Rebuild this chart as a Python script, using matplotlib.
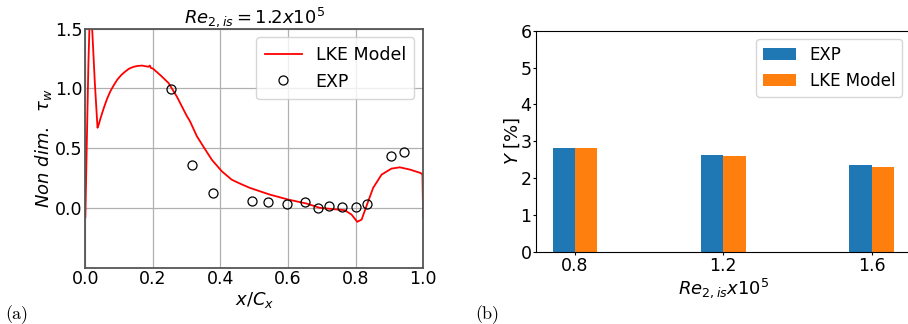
import matplotlib
matplotlib.use("Agg")
import matplotlib.pyplot as plt
import numpy as np

# (a) wall shear stress, LKE model curve
x_lke = [0.0, 0.004, 0.009, 0.013, 0.018, 0.021, 0.028, 0.036, 0.04, 0.045, 0.054, 0.064,
         0.074, 0.084, 0.094, 0.106, 0.118, 0.13, 0.143, 0.155, 0.168, 0.187, 0.191, 0.194,
         0.2, 0.222, 0.246, 0.271, 0.30, 0.31, 0.33, 0.349, 0.375, 0.404, 0.433, 0.46,
         0.487, 0.546, 0.601, 0.655, 0.694, 0.724, 0.768, 0.788, 0.805, 0.818, 0.832, 0.852,
         0.877, 0.906, 0.931, 0.961, 0.992, 0.998, 1.0]
y_lke = [-0.08, 0.5, 1.2, 1.6, 1.6, 1.45, 1.05, 0.67, 0.7, 0.75, 0.83, 0.91,
         0.975, 1.025, 1.07, 1.11, 1.14, 1.165, 1.18, 1.187, 1.19, 1.18, 1.19, 1.17,
         1.165, 1.11, 1.045, 0.93, 0.77, 0.723, 0.6, 0.514, 0.4, 0.306, 0.236, 0.2,
         0.167, 0.111, 0.069, 0.036, 0.0, -0.008, -0.02, -0.056, -0.117, -0.098, 0.013, 0.167,
         0.278, 0.328, 0.339, 0.32, 0.292, 0.28, -0.08]

# (a) experimental points
x_exp = [0.253, 0.317, 0.379, 0.494, 0.542, 0.596, 0.649, 0.689, 0.722, 0.761, 0.801, 0.833,
         0.905, 0.944]
y_exp = [0.99, 0.36, 0.125, 0.06, 0.045, 0.036, 0.05, 0.0, 0.014, 0.011, 0.011, 0.033,
         0.43, 0.47]

# (b) loss coefficient
re_labels = ["0.8", "1.2", "1.6"]
y_exp_bar = [2.82, 2.63, 2.36]
y_lke_bar = [2.82, 2.60, 2.30]

fig = plt.figure(figsize=(9.08, 3.24), dpi=100)

ax1 = fig.add_axes([0.094, 0.174, 0.372, 0.738])
ax1.plot(x_lke, y_lke, color="red", lw=1.3, label="LKE Model")
ax1.plot(x_exp, y_exp, "o", mfc="none", mec="black", ms=6.5, mew=0.9, label="EXP")
ax1.set_xlim(0, 1)
ax1.set_ylim(-0.5, 1.5)
ax1.set_yticks([0.0, 0.5, 1.0, 1.5])
ax1.set_xticks([0.0, 0.2, 0.4, 0.6, 0.8, 1.0])
ax1.grid(True, color="#b0b0b0", lw=0.9)
ax1.tick_params(labelsize=12.5, length=0, pad=2)
for s in ax1.spines.values():
    s.set_color("#555555")
    s.set_linewidth(1.3)
ax1.set_xlabel(r"$x/C_x$", fontsize=13, labelpad=1)
ax1.set_ylabel(r"$Non\ dim.\ \ \tau_w$", fontsize=13, labelpad=1)
ax1.set_title(r"$Re_{2,is} = 1.2x10^5$", fontsize=13, pad=3)
ax1.legend(loc="upper right", fontsize=12.5, handlelength=2.1, handletextpad=0.8,
           borderpad=0.5)

ax2 = fig.add_axes([0.5906, 0.2231, 0.412, 0.682])
pos = np.arange(len(re_labels))
w = 0.15
ax2.bar(pos - w / 2, y_exp_bar, w, color="#1f77b4", label="EXP")
ax2.bar(pos + w / 2, y_lke_bar, w, color="#ff7f0e", label="LKE Model")
ax2.set_xticks(pos)
ax2.set_xticklabels(re_labels)
ax2.set_xlim(-0.26, 2.26)
ax2.set_ylim(0, 6)
ax2.tick_params(labelsize=12.5, length=2, pad=1.5)
ax2.set_xlabel(r"$Re_{2,is}x10^5$", fontsize=13, labelpad=1)
ax2.set_ylabel(r"$Y\ [\%]$", fontsize=13, labelpad=-1)
ax2.legend(loc="upper right", fontsize=12)

fig.text(0.006, 0.015, "(a)", fontsize=13, family="cmr10")
fig.text(0.523, 0.015, "(b)", fontsize=13, family="cmr10")

fig.savefig("out.png", dpi=100)
